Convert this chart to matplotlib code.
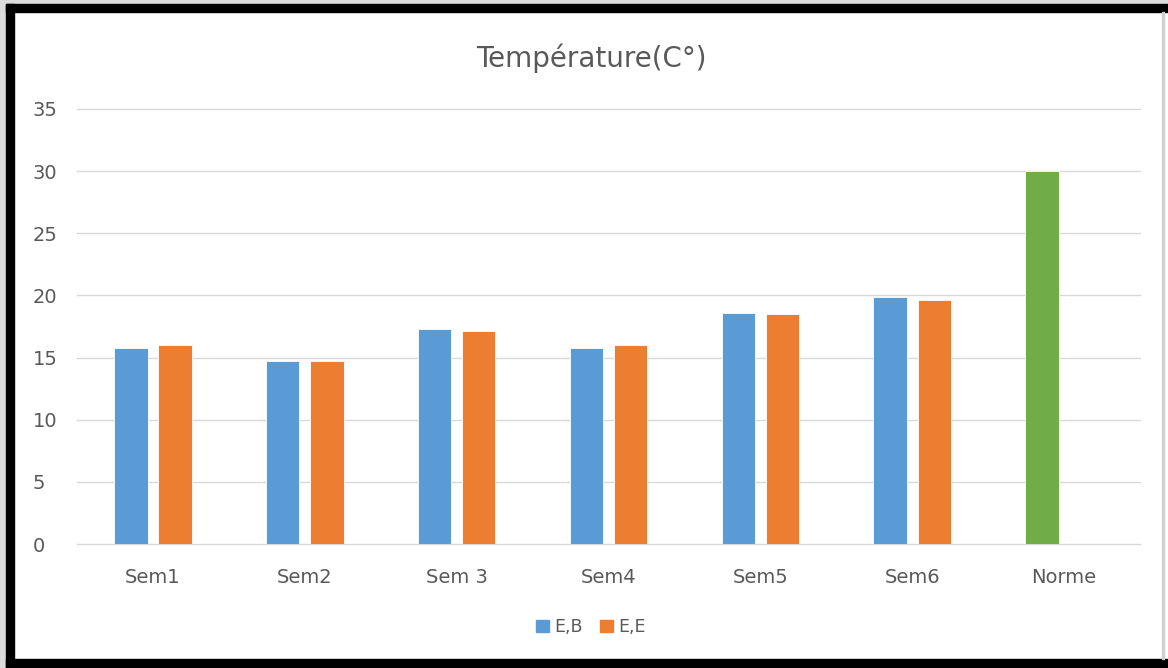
import matplotlib.pyplot as plt
import numpy as np
from matplotlib.patches import Rectangle, Patch

categories = ["Sem1", "Sem2", "Sem 3", "Sem4", "Sem5", "Sem6", "Norme"]
eb_values = [15.8, 14.7, 17.3, 15.8, 18.6, 19.9, 30.0]
ee_values = [16.0, 14.7, 17.1, 16.0, 18.5, 19.6, 0.0]
series_names = ["E,B", "E,E"]

blue = "#5B9BD5"
orange = "#ED7D31"
green = "#70AD47"
txt = "#595959"

plt.rcParams['font.family'] = ['DejaVu Sans']

fig = plt.figure(figsize=(11.68, 6.68), dpi=100)
fig.patch.set_facecolor("white")

# black frame like the screenshot
W, H = 1168, 668
def px_rect(x0, y0, x1, y1, color):
    fig.patches.append(Rectangle((x0 / W, 1 - y1 / H), (x1 - x0) / W, (y1 - y0) / H,
                                 transform=fig.transFigure, color=color, zorder=0))
px_rect(0, 0, W, 4, "#dcdcdc")
px_rect(0, 0, 6, H, "#dcdcdc")
px_rect(6, 4, W, 12, "black")
px_rect(6, 4, 14, H, "black")
px_rect(6, 659, W, H, "black")
px_rect(1162, 12, 1164, 659, "#d0d0d0")

ax = fig.add_axes([77 / W, 1 - 544 / H, (1140 - 77) / W, (544 - 109) / H])
ax.set_facecolor("none")

x = np.arange(len(categories))
w = 0.22
off = 0.145
eb_colors = [blue] * (len(categories) - 1) + [green]
ax.bar(x - off, eb_values, w, color=eb_colors, edgecolor="white", linewidth=0.6, zorder=3)
ax.bar(x[:-1] + off, ee_values[:-1], w, color=orange, edgecolor="white", linewidth=0.6, zorder=3)

ax.set_xlim(-0.5, len(categories) - 0.5)
ax.set_ylim(0, 35)
ax.set_yticks(np.arange(0, 36, 5))
ax.set_xticks(x)
ax.set_xticklabels(categories)
ax.yaxis.grid(True, color="#d9d9d9", linewidth=1)
for gl in ax.get_ygridlines():
    gl.set_clip_on(False)
ax.set_axisbelow(True)
for s in ax.spines.values():
    s.set_visible(False)
ax.tick_params(length=0, labelsize=14, labelcolor=txt)
ax.tick_params(axis="x", pad=17)
ax.tick_params(axis="y", pad=32)
for lab in ax.get_yticklabels():
    lab.set_horizontalalignment("left")

fig.text(591 / W, 1 - 58 / H, "Température(C°)", ha="center", va="center",
         fontsize=20, color=txt)

handles = [Patch(color=blue), Patch(color=orange)]
fig.legend(handles, series_names, loc="center", bbox_to_anchor=(591 / W, 1 - 627 / H),
           ncol=2, frameon=False, fontsize=12.5, labelcolor=txt,
           handlelength=0.75, handleheight=0.75, handletextpad=0.3, columnspacing=1.0)

fig.savefig("out.png", dpi=100)
